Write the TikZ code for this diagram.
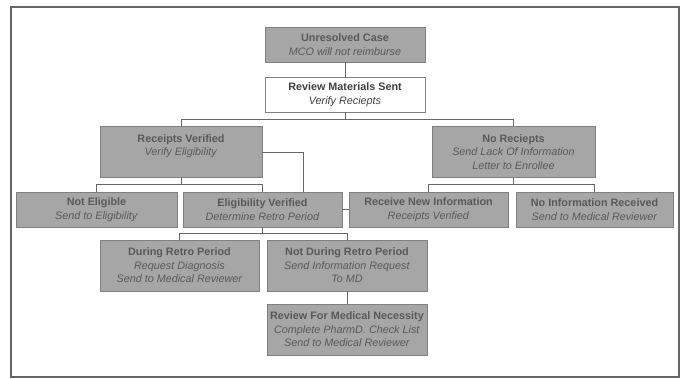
\documentclass[tikz,border=0pt]{standalone}
\usepackage{fontspec}
\setmainfont{Liberation Sans}
\begin{document}
\begin{tikzpicture}[x = 1pt, y = -1pt, draw = black!60, line width = 0.8pt,
  box/.style = {draw = black!50, fill = black!35, text = black!65, align = center, minimum height = 35pt, inner sep = 1pt, font = \fontsize{10.8}{13.5}\selectfont},
  tall/.style = {box, minimum height = 51pt},
  plain/.style = {box, fill = white, text = black!75}]
\useasboundingbox (0,0) rectangle (682,379);
\draw[line width = 1.5pt, black!60] (11,7) rectangle (679,377);
\node[box, minimum width = 160pt] (uc) at (345,44.5) {\textbf{Unresolved Case}\\\textit{MCO will not reimburse}};
\node[plain, minimum width = 160pt] (rms) at (345,94.5) {\textbf{Review Materials Sent}\\\textit{Verify Reciepts}};
\node[tall, minimum width = 162pt] (rv) at (181,152) {\textbf{Receipts Verified}\\\textit{Verify Eligibility}\\\mbox{}};
\node[tall, minimum width = 163pt] (nr) at (513.5,152) {\textbf{No Reciepts}\\\textit{Send Lack Of Information}\\\textit{Letter to Enrollee}};
\node[box, minimum width = 161pt] (ne) at (96.5,209.5) {\textbf{Not Eligible}\\\textit{Send to Eligibility}};
\node[box, minimum width = 159pt] (ev) at (262.5,209.5) {\textbf{Eligibility Verified}\\\textit{Determine Retro Period}};
\node[box, minimum width = 159pt] (rni) at (428.5,209.5) {\textbf{Receive New Information}\\\textit{Receipts Verified}};
\node[box, minimum width = 157pt] (nir) at (594.5,209.5) {\textbf{No Information Received}\\\textit{Send to Medical Reviewer}};
\node[tall, minimum width = 159pt] (drp) at (179.5,265.5) {\textbf{During Retro Period}\\\textit{Request Diagnosis}\\\textit{Send to Medical Reviewer}};
\node[tall, minimum width = 160pt] (ndrp) at (347,265.5) {\textbf{Not During Retro Period}\\\textit{Send Information Request}\\\textit{To MD}};
\node[tall, minimum width = 160pt] (rfmn) at (347,329.5) {\textbf{Review For Medical Necessity}\\\textit{Complete PharmD. Check List}\\\textit{Send to Medical Reviewer}};
\draw (uc) -- (rms);
\draw (rms.south) -- ++(0,7) -| (rv.north);
\draw (rms.south) -- ++(0,7) -| (nr.north);
\draw (rv.south) -- ++(0,7) -| (ne.north);
\draw (rv.south) -- ++(0,7) -| (ev.north);
\draw (rv.east) -| ([xshift = 40.5pt]ev.north);
\draw (nr.south) -- ++(0,7) -| (rni.north);
\draw (nr.south) -- ++(0,7) -| (nir.north);
\draw (ev.east) -- (rni.west);
\draw (ev.south) -- ++(0,6) -| (drp.north);
\draw (ev.south) -- ++(0,6) -| (ndrp.north);
\draw (ndrp) -- (rfmn);
\end{tikzpicture}
\end{document}
